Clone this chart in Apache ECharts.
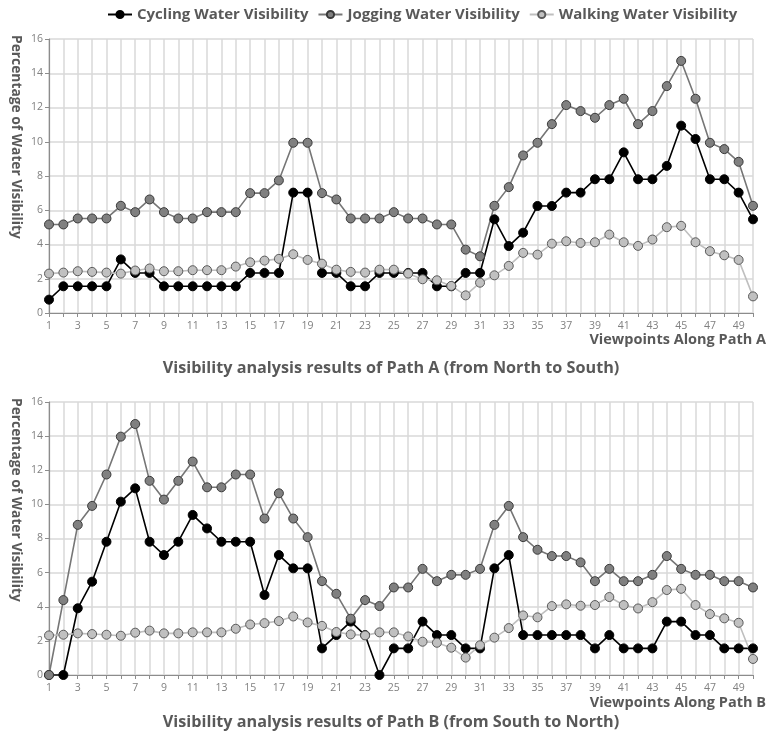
<!DOCTYPE html>
<html>
<head>
<meta charset="utf-8">
<script src="https://cdn.jsdelivr.net/npm/echarts@6/dist/echarts.min.js"></script>
<style>
  html, body { margin: 0; padding: 0; background: #fff; }
  #chart { width: 782px; height: 738px; }
</style>
</head>
<body>
<div id="chart"></div>
<script>
// Viewpoint numbers along each path
const viewpoints = Array.from({ length: 50 }, (_, i) => String(i + 1));

// Path A (north to south), percentage of water visible
const cyclingA = [0.78,1.56,1.56,1.56,1.56,3.13,2.34,2.34,1.56,1.56,
                  1.56,1.56,1.56,1.56,2.34,2.34,2.34,7.03,7.03,2.34,
                  2.34,1.56,1.56,2.34,2.34,2.34,2.34,1.56,1.56,2.34,
                  2.34,5.47,3.91,4.69,6.25,6.25,7.03,7.03,7.81,7.81,
                  9.38,7.81,7.81,8.59,10.94,10.16,7.81,7.81,7.03,5.47];
const joggingA = [5.17,5.17,5.52,5.52,5.52,6.26,5.89,6.63,5.89,5.52,
                  5.52,5.89,5.89,5.89,7.00,7.00,7.74,9.94,9.94,7.00,
                  6.63,5.52,5.52,5.52,5.89,5.52,5.52,5.17,5.17,3.70,
                  3.31,6.26,7.35,9.20,9.94,11.03,12.14,11.79,11.40,12.14,
                  12.51,11.03,11.79,13.25,14.72,12.51,9.94,9.57,8.83,6.26];
const walkingA = [2.30,2.36,2.44,2.40,2.36,2.30,2.48,2.60,2.44,2.44,
                  2.50,2.50,2.50,2.71,2.96,3.06,3.16,3.43,3.10,2.88,
                  2.53,2.40,2.36,2.53,2.53,2.30,1.97,1.91,1.58,1.03,
                  1.77,2.20,2.75,3.51,3.41,4.05,4.19,4.09,4.13,4.58,
                  4.13,3.92,4.29,5.01,5.09,4.13,3.61,3.37,3.10,0.97];

// Path B (south to north)
const cyclingB = [0,0,3.91,5.47,7.81,10.16,10.94,7.81,7.03,7.81,
                  9.38,8.59,7.81,7.81,7.81,4.69,7.03,6.25,6.25,1.56,
                  2.34,3.13,2.34,0,1.56,1.56,3.13,2.34,2.34,1.56,
                  1.56,6.25,7.03,2.34,2.34,2.34,2.34,2.34,1.56,2.34,
                  1.56,1.56,1.56,3.13,3.13,2.34,2.34,1.56,1.56,1.56];
const joggingB = [0,4.39,8.80,9.91,11.75,13.97,14.71,11.38,10.28,11.38,
                  12.51,11.00,11.00,11.75,11.75,9.17,10.65,9.17,8.08,5.50,
                  4.76,3.30,4.39,4.04,5.13,5.13,6.22,5.50,5.87,5.87,
                  6.22,8.80,9.91,8.08,7.34,6.97,6.97,6.60,5.50,6.22,
                  5.50,5.50,5.87,6.97,6.22,5.87,5.87,5.50,5.50,5.13];
const walkingB = [2.32,2.36,2.44,2.40,2.36,2.30,2.48,2.60,2.44,2.44,
                  2.50,2.50,2.50,2.71,2.96,3.04,3.16,3.43,3.08,2.88,
                  2.52,2.38,2.32,2.50,2.50,2.26,1.95,1.89,1.60,1.02,
                  1.74,2.19,2.75,3.49,3.38,4.04,4.14,4.06,4.10,4.57,
                  4.10,3.90,4.27,4.98,5.05,4.10,3.57,3.32,3.06,0.94];

const seriesNames = ['Cycling Water Visibility', 'Jogging Water Visibility', 'Walking Water Visibility'];
const chartTitles = ['Visibility analysis results of Path A (from North to South)',
                     'Visibility analysis results of Path B (from South to North)'];
const xAxisTitles = ['Viewpoints Along Path A', 'Viewpoints Along Path B'];
const yAxisTitle = 'Percentage of Water Visibility';

const FONT = '"Open Sans", "Noto Sans", sans-serif';
const TEXT_DARK = '#595959';

const styles = [
  { line: '#000000', fill: '#000000', border: '#000000' },
  { line: '#767676', fill: '#808080', border: '#3a3a3a' },
  { line: '#bfbfbf', fill: '#c0c0c0', border: '#5a5a5a' }
];

const grids = [
  { left: 49, right: 29, top: 39, height: 274 },
  { left: 49, right: 29, top: 402, height: 273 }
];

function makeX(gi) {
  return {
    type: 'category', gridIndex: gi, data: viewpoints, boundaryGap: false,
    axisLine: { lineStyle: { color: '#8c8c8c', width: 1.2 } },
    axisTick: { show: true, interval: 0, length: 4, lineStyle: { color: '#8c8c8c' } },
    axisLabel: { interval: 1, color: '#808080', fontSize: 10.5, fontFamily: FONT, margin: 8 },
    splitLine: { show: true, interval: 0, lineStyle: { color: '#d9d9d9', width: 1.5 } }
  };
}
function makeY(gi) {
  return {
    type: 'value', gridIndex: gi, min: 0, max: 16, interval: 2,
    axisLine: { show: true, lineStyle: { color: '#8c8c8c', width: 1.2 } },
    axisTick: { show: true, length: 4, lineStyle: { color: '#8c8c8c' } },
    axisLabel: { color: '#808080', fontSize: 10.5, fontFamily: FONT, margin: 6 },
    splitLine: { show: true, lineStyle: { color: '#d9d9d9', width: 1.5 } }
  };
}
function makeSeries(name, data, gi, st) {
  return {
    name: name, type: 'line', data: data,
    xAxisIndex: gi, yAxisIndex: gi,
    symbol: 'circle', symbolSize: 9,
    lineStyle: { color: st.line, width: 1.6 },
    itemStyle: { color: st.fill, borderColor: st.border, borderWidth: 1 },
    emphasis: { disabled: true },
    animation: false
  };
}

const pathData = [[cyclingA, joggingA, walkingA], [cyclingB, joggingB, walkingB]];
const series = [];
pathData.forEach((set, gi) => {
  set.forEach((d, k) => series.push(makeSeries(seriesNames[k], d, gi, styles[k])));
});

const graphics = [];
[39, 402].forEach(top => {
  graphics.push({
    type: 'text', x: 16, y: top - 4, rotation: -Math.PI / 2,
    style: { text: yAxisTitle, fill: TEXT_DARK, font: 'bold 13.8px ' + FONT,
             textAlign: 'left', textVerticalAlign: 'middle' }
  });
});
[[340, 0], [703, 1]].forEach(([y, i]) => {
  graphics.push({
    type: 'text', x: 766, y: y,
    style: { text: xAxisTitles[i], fill: TEXT_DARK, font: 'bold 14.5px ' + FONT,
             textAlign: 'right', textVerticalAlign: 'middle' }
  });
});
[[368, 0], [722, 1]].forEach(([y, i]) => {
  graphics.push({
    type: 'text', x: 391, y: y,
    style: { text: chartTitles[i], fill: TEXT_DARK, font: 'bold 16.2px ' + FONT,
             textAlign: 'center', textVerticalAlign: 'middle' }
  });
});

const chart = echarts.init(document.getElementById('chart'), null, { renderer: 'canvas' });
chart.setOption({
  backgroundColor: '#ffffff',
  animation: false,
  legend: {
    data: seriesNames, top: 7, left: 107, padding: 0, itemGap: 9,
    itemWidth: 24, itemHeight: 9,
    textStyle: { color: TEXT_DARK, fontSize: 15, fontWeight: 'bold', fontFamily: FONT }
  },
  grid: grids,
  xAxis: [makeX(0), makeX(1)],
  yAxis: [makeY(0), makeY(1)],
  series: series,
  graphic: graphics
});
</script>
</body>
</html>
